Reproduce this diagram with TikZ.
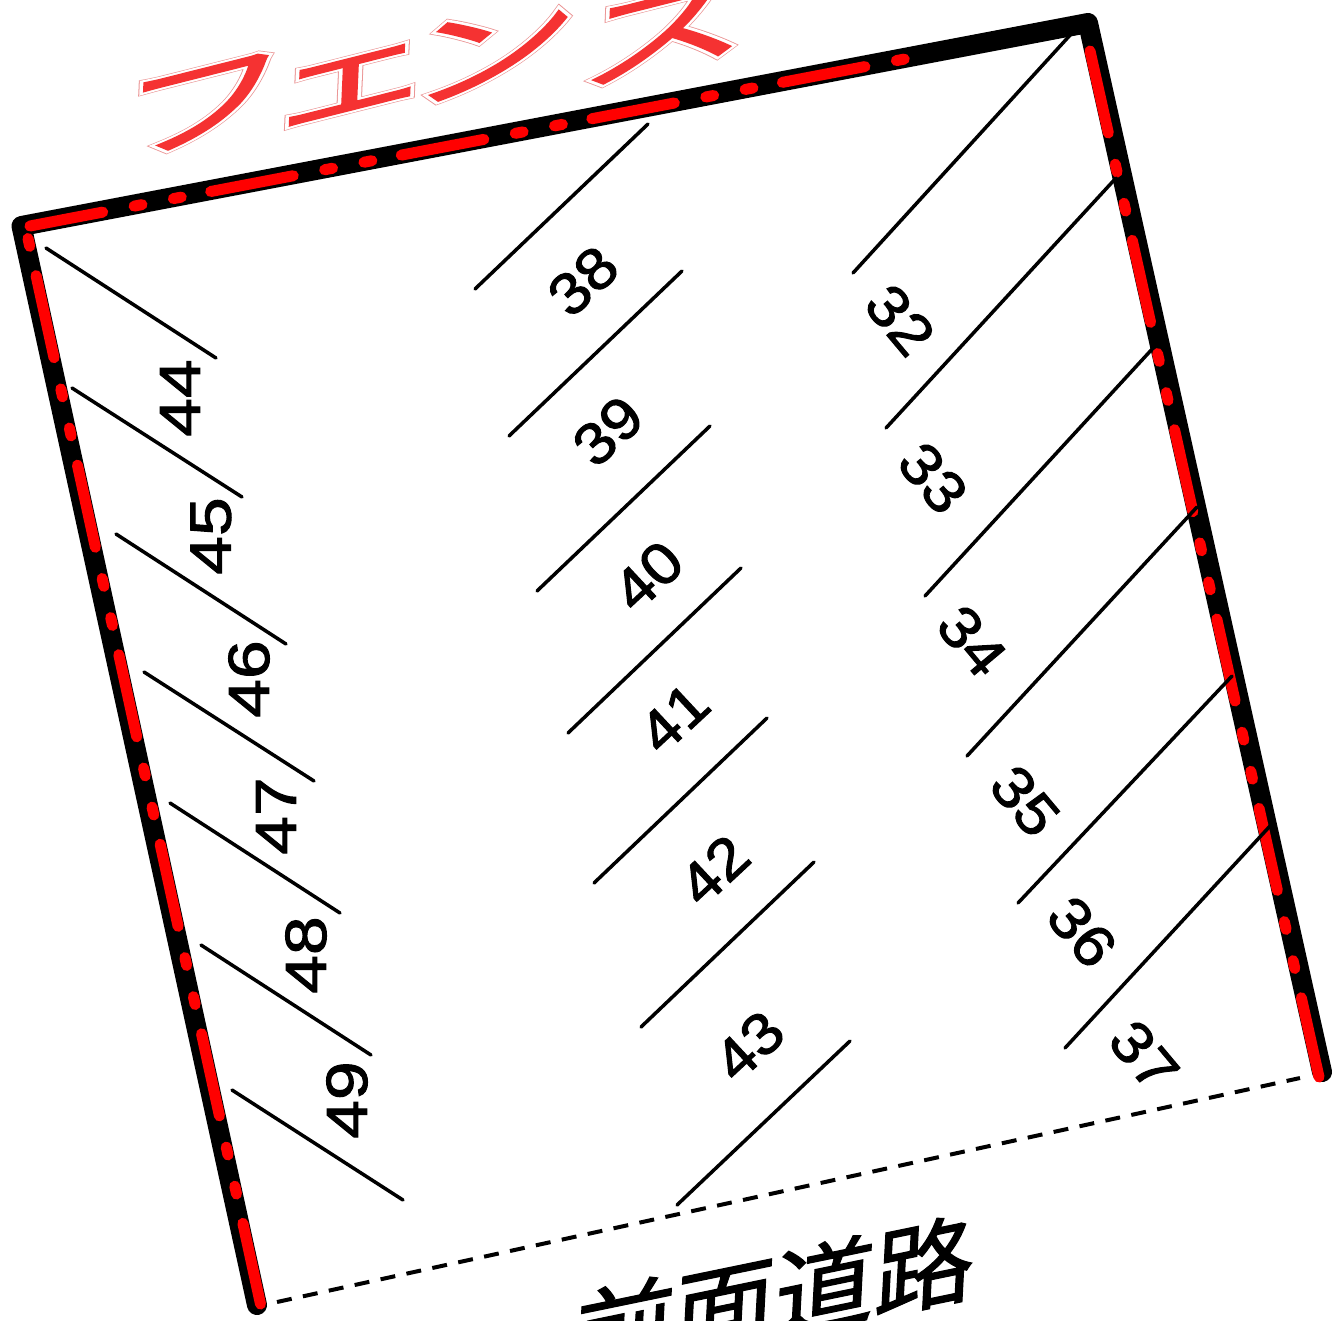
\documentclass[tikz,border=0pt]{standalone}
\usepackage{fontspec}
\setmainfont{Liberation Sans}
% digits are a little heavier and wider than the plain face
\font\baynumfont="Liberation Sans:embolden=1.8;extend=1.1" at 58pt
\font\baynumwide="Liberation Sans:embolden=1.8;extend=1.2" at 58pt
\font\roadfont="Noto Sans CJK JP:embolden=1.2" at 103pt
% embolden widths for the outlined title
\font\fenceouter="Noto Sans CJK JP:embolden=6.6" at 150pt
\font\fencemiddle="Noto Sans CJK JP:embolden=5.4" at 150pt
\font\fenceinner="Noto Sans CJK JP:embolden=1.2" at 150pt
\definecolor{fencered}{RGB}{255,0,0}
\definecolor{titlered}{RGB}{245,50,50}
\definecolor{titlepink}{RGB}{235,150,150}
\tikzset{
  bay/.style={line width=3.5pt, line cap=round},
  baynum/.style={font=\baynumfont, inner sep=0pt},
  baynumleft/.style={font=\baynumwide, inner sep=0pt, rotate=90},
  wall/.style={line width=20pt, line cap=round, line join=round},
  fence/.style={draw=fencered, line width=11pt, line cap=round,
    dash pattern=on 84pt off 32pt on 8pt off 32pt on 8pt off 30pt},
  titlelayer/.style={transform shape, inner sep=0pt, anchor=base west}
}
\newcommand{\titletext}{フ\kern-22pt\lower12pt\hbox{ェ}\kern-26pt\lower29pt\hbox{ン}\kern-1pt\lower65pt\hbox{ス}}
\begin{document}
\begin{tikzpicture}[x=1pt,y=-1pt]

    % Fix the page to the size of the plan
    \clip (0,0) rectangle (1337,1320);

    % Corners of the lot
    \coordinate (FL) at (21.5,226);
    \coordinate (FR) at (1088,23);
    \coordinate (BL) at (257,1305);
    \coordinate (BR) at (1322,1072);

    % Thick black wall on three sides
    \draw[wall] (BL) -- (FL) -- (FR) -- (BR);

    % Red dash-dot fence lying on top of the wall
    \coordinate (TopA) at (30,226);
    \coordinate (TopB) at (910,58);
    \draw[fence, dash phase=10pt] (TopA) -- (TopB);
    \coordinate (RightA) at (1090,51);
    \coordinate (RightB) at (1319,1077);
    \draw[fence] (RightA) -- (RightB);
    \coordinate (LeftA) at (28,238.5);
    \coordinate (LeftB) at (260.5,1304);
    \draw[fence, dash phase=156pt] (LeftA) -- (LeftB);

    % Dashed edge towards the road
    \coordinate (RoadA) at (277,1302);
    \coordinate (RoadB) at (1300,1078);
    \draw[line width=4pt, dash pattern=on 15pt off 11.5pt] (RoadA) -- (RoadB);

    % Right row of bays
    \draw[bay] (853,273) -- (1072,33);
    \draw[bay] (886,428) -- (1116,178);
    \draw[bay] (925,596) -- (1154,347);
    \draw[bay] (967,756) -- (1197,507);
    \draw[bay] (1018,903) -- (1232,676);
    \draw[bay] (1065,1048) -- (1270,826);

    % Middle row of bays
    \draw[bay] (475,289) -- (648,124);
    \draw[bay] (509,436) -- (682,271);
    \draw[bay] (537,591) -- (710,426);
    \draw[bay] (568,733) -- (741,568);
    \draw[bay] (594,883) -- (767,718);
    \draw[bay] (641,1027) -- (814,862);
    \draw[bay] (677,1205) -- (850,1041);

    % Left row of bays
    \draw[bay] (46,248) -- (216,358);
    \draw[bay] (72,388) -- (242,497);
    \draw[bay] (116,534) -- (286,644);
    \draw[bay] (144,672) -- (314,781);
    \draw[bay] (170,803) -- (340,913);
    \draw[bay] (201,945) -- (371,1055);
    \draw[bay] (232,1090) -- (403,1200);

    % Bay numbers, right row
    \node[baynum, rotate=-50] (n32) at (900,320) {32};
    \node[baynum, rotate=-50] (n33) at (933,478) {33};
    \node[baynum, rotate=-50] (n34) at (972,641) {34};
    \node[baynum, rotate=-50] (n35) at (1025,801) {35};
    \node[baynum, rotate=-50] (n36) at (1082,932) {36};
    \node[baynum, rotate=-50] (n37) at (1144,1056) {37};

    % Bay numbers, middle row
    \node[baynum, rotate=43] (n38) at (583,281) {38};
    \node[baynum, rotate=43] (n39) at (608,431) {39};
    \node[baynum, rotate=43] (n40) at (648,576) {40};
    \node[baynum, rotate=43] (n41) at (674,718) {41};
    \node[baynum, rotate=43] (n42) at (714,870) {42};
    \node[baynum, rotate=43] (n43) at (749,1046) {43};

    % Bay numbers, left row
    \node[baynumleft] (n44) at (180,398) {44};
    \node[baynumleft] (n45) at (211,536) {45};
    \node[baynumleft] (n46) at (249,679) {46};
    \node[baynumleft] (n47) at (276,816) {47};
    \node[baynumleft] (n48) at (306,955) {48};
    \node[baynumleft] (n49) at (347,1100) {49};

    % Road label, skewed and cut off by the page edge
    \begin{scope}[cm={0.97,0.2,0.05,0.95,(775,1296)}]
        \node[font=\roadfont, transform shape, inner sep=0pt] (road) at (0,0) {前面道路};
    \end{scope}

    % Fence title in three layers, skewed and cut off by the page edge
    \begin{scope}[cm={1.15,0.29,0.03,0.68,(116,161)}]
        \node[font=\fenceouter, text=titlepink, titlelayer] (titleA) at (0,0) {\titletext};
        \node[font=\fencemiddle, text=white, titlelayer] (titleB) at (0,0) {\titletext};
        \node[font=\fenceinner, text=titlered, titlelayer] (titleC) at (0,0) {\titletext};
    \end{scope}

\end{tikzpicture}
\end{document}
